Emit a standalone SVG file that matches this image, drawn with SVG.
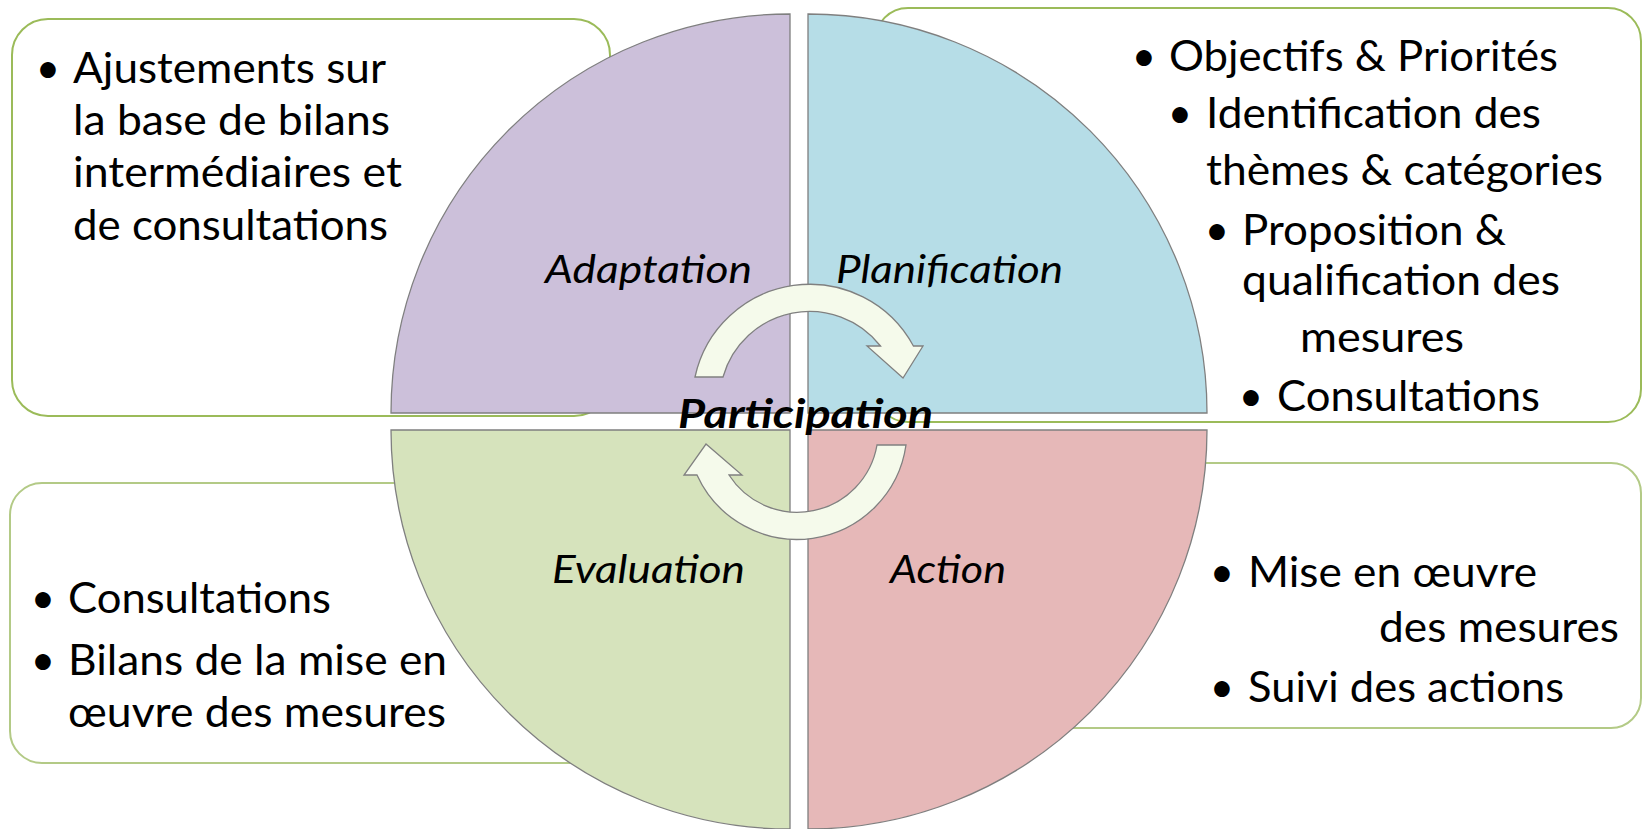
<svg xmlns="http://www.w3.org/2000/svg" width="1643" height="829" viewBox="0 0 1643 829">
<style>
.box{fill:#ffffff;stroke-width:2}
.boxA{stroke:#9bbb59}
.boxB{stroke:#b3ca86}
.quad{stroke:#7f7f7f;stroke-width:1.3}
.t{font-family:Lato,"Liberation Sans",sans-serif;font-size:42px;fill:#000}
.b{font-family:Lato,"Liberation Sans",sans-serif;font-size:42px;fill:#000;text-anchor:middle}
.lab{font-family:Lato,"Liberation Sans",sans-serif;font-size:38px;font-style:italic;fill:#000}
.arrow{fill:#f5faeb;stroke:#808080;stroke-width:1.3;stroke-linejoin:miter}
</style>
<rect width="1643" height="829" fill="#ffffff"/>
<g id="box-adaptation"><rect class="box boxA" x="12" y="19" width="598" height="397" rx="36"/></g>
<g id="box-planification"><rect class="box boxA" x="875" y="8" width="766" height="414" rx="33"/></g>
<g id="box-evaluation"><rect class="box boxB" x="10" y="483" width="640" height="280" rx="32"/></g>
<g id="box-action"><rect class="box boxB" x="900" y="463" width="741" height="265" rx="30"/></g>

<g id="quad-adaptation"><path class="quad" fill="#ccc0da" d="M790 413 L391 413 A399 399 0 0 1 790 14 Z"/>
<text class="lab" x="545" y="283" textLength="207" lengthAdjust="spacingAndGlyphs">Adaptation</text></g>
<g id="quad-planification"><path class="quad" fill="#b6dde7" d="M808 413 L808 14 A399 399 0 0 1 1207 413 Z"/>
<text class="lab" x="836" y="283" textLength="227" lengthAdjust="spacingAndGlyphs">Planification</text></g>
<g id="quad-evaluation"><path class="quad" fill="#d6e3bc" d="M790 430 L790 829 A399 399 0 0 1 391 430 Z"/>
<text class="lab" x="552" y="583" textLength="193" lengthAdjust="spacingAndGlyphs">Evaluation</text></g>
<g id="quad-action"><path class="quad" fill="#e6b8b8" d="M808 430 L1207 430 A399 399 0 0 1 808 829 Z"/>
<text class="lab" x="890" y="583" textLength="116" lengthAdjust="spacingAndGlyphs">Action</text></g>

<g id="connectors">
<path class="arrow" d="M695 377 A117.6 117.6 0 0 1 913.4 346 L923 346 L903 378 L867 346 L880.5 346 A90 90 0 0 0 723 377 Z"/>
<path class="arrow" d="M906 445 A110 110 0 0 1 697 475 L684 475 L706 444 L742 475 L729 475 A81 81 0 0 0 877 445 Z"/>
</g>

<g id="center-participation">
<text x="678" y="428" font-family="Lato,'Liberation Sans',sans-serif" font-size="40" font-weight="bold" font-style="italic" fill="#000" textLength="255" lengthAdjust="spacingAndGlyphs">Participation</text>
</g>

<g id="text-adaptation">
<text class="b" x="48" y="83">•</text>
<text class="t" x="73" y="83" textLength="313" lengthAdjust="spacingAndGlyphs">Ajustements sur</text>
<text class="t" x="73" y="135" textLength="317" lengthAdjust="spacingAndGlyphs">la base de bilans</text>
<text class="t" x="73" y="187" textLength="329" lengthAdjust="spacingAndGlyphs">intermédiaires et</text>
<text class="t" x="73" y="240" textLength="315" lengthAdjust="spacingAndGlyphs">de consultations</text>
</g>

<g id="text-planification">
<text class="b" x="1144" y="71">•</text>
<text class="t" x="1169" y="71" textLength="389" lengthAdjust="spacingAndGlyphs">Objectifs &amp; Priorités</text>
<text class="b" x="1180" y="128">•</text>
<text class="t" x="1206" y="128" textLength="335" lengthAdjust="spacingAndGlyphs">Identification des</text>
<text class="t" x="1206" y="185" textLength="397" lengthAdjust="spacingAndGlyphs">thèmes &amp; catégories</text>
<text class="b" x="1217" y="245">•</text>
<text class="t" x="1242" y="245" textLength="264" lengthAdjust="spacingAndGlyphs">Proposition &amp;</text>
<text class="t" x="1242" y="295" textLength="318" lengthAdjust="spacingAndGlyphs">qualification des</text>
<text class="t" x="1300" y="352" textLength="164" lengthAdjust="spacingAndGlyphs">mesures</text>
<text class="b" x="1251" y="411">•</text>
<text class="t" x="1277" y="411" textLength="263" lengthAdjust="spacingAndGlyphs">Consultations</text>
</g>

<g id="text-evaluation">
<text class="b" x="43" y="613">•</text>
<text class="t" x="68" y="613" textLength="263" lengthAdjust="spacingAndGlyphs">Consultations</text>
<text class="b" x="43" y="675">•</text>
<text class="t" x="68" y="675" textLength="379" lengthAdjust="spacingAndGlyphs">Bilans de la mise en</text>
<text class="t" x="68" y="727" textLength="378" lengthAdjust="spacingAndGlyphs">œuvre des mesures</text>
</g>

<g id="text-action">
<text class="b" x="1222" y="587">•</text>
<text class="t" x="1248" y="587" textLength="289" lengthAdjust="spacingAndGlyphs">Mise en œuvre</text>
<text class="t" x="1379" y="642" textLength="240" lengthAdjust="spacingAndGlyphs">des mesures</text>
<text class="b" x="1222" y="702">•</text>
<text class="t" x="1248" y="702" textLength="316" lengthAdjust="spacingAndGlyphs">Suivi des actions</text>
</g>
</svg>
